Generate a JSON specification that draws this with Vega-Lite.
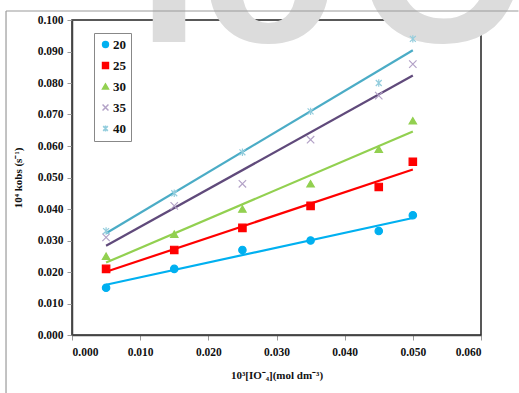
{
  "$schema": "https://vega.github.io/schema/vega-lite/v6.json",
  "width": 409,
  "height": 315,
  "autosize": {"type": "none"},
  "padding": {"left": 72, "top": 20, "right": 38, "bottom": 58},
  "background": "white",
  "config": {
    "view": {"stroke": "#222", "strokeWidth": 1.5},
    "font": "Liberation Serif",
    "axis": {
      "grid": false,
      "domainColor": "#444",
      "domainWidth": 1.5,
      "tickColor": "#999",
      "tickSize": 5,
      "labelOverlap": false,
      "labelFont": "Liberation Serif",
      "labelFontWeight": "bold",
      "labelFontSize": 11.5,
      "labelColor": "#111",
      "titleFont": "Liberation Serif",
      "titleFontWeight": "bold",
      "titleFontSize": 11,
      "titleColor": "#111"
    },
    "legend": {
      "labelFont": "Liberation Serif",
      "labelFontWeight": "bold",
      "labelFontSize": 13,
      "labelColor": "#111"
    }
  },
  "datasets": {
    "obs": [
      {"x": 0.005, "k": 0.015, "T": "20"},
      {"x": 0.015, "k": 0.021, "T": "20"},
      {"x": 0.025, "k": 0.027, "T": "20"},
      {"x": 0.035, "k": 0.030, "T": "20"},
      {"x": 0.045, "k": 0.033, "T": "20"},
      {"x": 0.050, "k": 0.038, "T": "20"},
      {"x": 0.005, "k": 0.021, "T": "25"},
      {"x": 0.015, "k": 0.027, "T": "25"},
      {"x": 0.025, "k": 0.034, "T": "25"},
      {"x": 0.035, "k": 0.041, "T": "25"},
      {"x": 0.045, "k": 0.047, "T": "25"},
      {"x": 0.050, "k": 0.055, "T": "25"},
      {"x": 0.005, "k": 0.025, "T": "30"},
      {"x": 0.015, "k": 0.032, "T": "30"},
      {"x": 0.025, "k": 0.040, "T": "30"},
      {"x": 0.035, "k": 0.048, "T": "30"},
      {"x": 0.045, "k": 0.059, "T": "30"},
      {"x": 0.050, "k": 0.068, "T": "30"},
      {"x": 0.005, "k": 0.031, "T": "35"},
      {"x": 0.015, "k": 0.041, "T": "35"},
      {"x": 0.025, "k": 0.048, "T": "35"},
      {"x": 0.035, "k": 0.062, "T": "35"},
      {"x": 0.045, "k": 0.076, "T": "35"},
      {"x": 0.050, "k": 0.086, "T": "35"},
      {"x": 0.005, "k": 0.033, "T": "40"},
      {"x": 0.015, "k": 0.045, "T": "40"},
      {"x": 0.025, "k": 0.058, "T": "40"},
      {"x": 0.035, "k": 0.071, "T": "40"},
      {"x": 0.045, "k": 0.080, "T": "40"},
      {"x": 0.050, "k": 0.094, "T": "40"}
    ],
    "mark": [{"label": "Io\u200aC", "x": 0.0376, "k": 0.093}],
    "frame": [
      {"x": -0.00968, "x2": 0.0655, "k": 0.10286, "k2": 0.10286},
      {"x": -0.00968, "x2": -0.00968, "k": 0.10286, "k2": -0.0184}
    ]
  },
  "encoding": {
    "x": {
      "field": "x", "type": "quantitative",
      "scale": {"domain": [0, 0.06], "nice": false, "zero": true},
      "axis": {"values": [0, 0.01, 0.02, 0.03, 0.04, 0.05, 0.06], "format": ".3f", "labelPadding": 6, "title": "10³[IO⁻₄](mol dm⁻³)", "titlePadding": 12}
    },
    "y": {
      "field": "k", "type": "quantitative",
      "scale": {"domain": [0, 0.1], "nice": false},
      "axis": {"values": [0, 0.01, 0.02, 0.03, 0.04, 0.05, 0.06, 0.07, 0.08, 0.09, 0.1], "format": ".3f", "labelPadding": 4, "title": "10⁴ kobs (s⁻¹)", "titlePadding": 14}
    }
  },
  "layer": [
    {
      "data": {"name": "mark"},
      "mark": {"type": "text", "font": "Liberation Sans", "fontWeight": "bold", "fontSize": 225, "color": "#DCDCDC", "align": "center", "baseline": "alphabetic"},
      "encoding": {
        "text": {"field": "label"}
      }
    },
    {
      "data": {"name": "frame"},
      "mark": {"type": "rule", "color": "#9A9A9A", "strokeWidth": 1.2},
      "encoding": {
        "x2": {"field": "x2"},
        "y2": {"field": "k2"}
      }
    },
    {
      "data": {"name": "obs"},
      "transform": [{"regression": "k", "on": "x", "groupby": ["T"]}],
      "mark": {"type": "line", "strokeWidth": 2.2},
      "encoding": {
        "detail": {"field": "T", "type": "nominal"},
        "stroke": {
          "condition": [
            {"test": "datum.T == '20'", "value": "#00B0F0"},
            {"test": "datum.T == '25'", "value": "#FF0000"},
            {"test": "datum.T == '30'", "value": "#92D050"},
            {"test": "datum.T == '35'", "value": "#604A7B"}
          ],
          "value": "#4BACC6"
        }
      }
    },
    {
      "data": {"name": "obs"},
      "mark": {"type": "point", "filled": false, "strokeWidth": 1.2, "opacity": 1},
      "encoding": {
        "color": {
          "field": "T", "type": "nominal",
          "scale": {"domain": ["20", "25", "30", "35", "40"], "range": ["#00B0F0", "#FF0000", "#92D050", "#B3A2C7", "#93CDDD"]},
          "legend": {
            "title": null, "orient": "none", "legendX": 22, "legendY": 13,
            "strokeColor": "#888", "fillColor": "white", "padding": 5, "rowPadding": 7, "symbolSize": 35, "labelOffset": 1
          }
        },
        "fill": {
          "field": "T", "type": "nominal",
          "scale": {"domain": ["20", "25", "30", "35", "40"], "range": ["#00B0F0", "#FF0000", "#92D050", "#B3A2C7", "#93CDDD"]},
          "legend": {
            "title": null, "orient": "none", "legendX": 22, "legendY": 13,
            "strokeColor": "#888", "fillColor": "white", "padding": 5, "rowPadding": 7, "symbolSize": 35, "labelOffset": 1
          }
        },
        "shape": {
          "field": "T", "type": "nominal",
          "scale": {"domain": ["20", "25", "30", "35", "40"], "range": ["circle", "square", "triangle-up", "M-1,-1L1,1M-1,1L1,-1", "M-0.8,-0.8L0.8,0.8M-0.8,0.8L0.8,-0.8M0,-1L0,1"]},
          "legend": {
            "title": null, "orient": "none", "legendX": 22, "legendY": 13,
            "strokeColor": "#888", "fillColor": "white", "padding": 5, "rowPadding": 7, "symbolSize": 35, "labelOffset": 1
          }
        },
        "size": {"value": 55}
      }
    }
  ]
}
